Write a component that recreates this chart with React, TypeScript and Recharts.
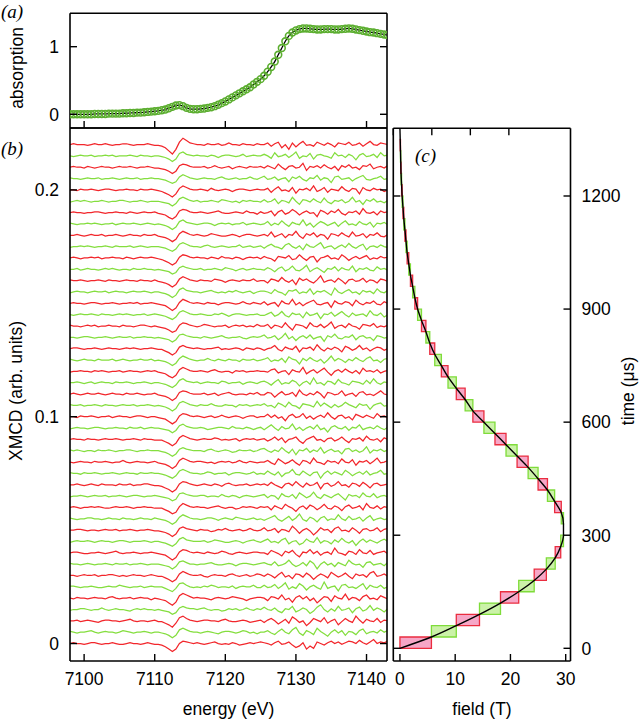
import React from 'react';
import { ComposedChart, Line, XAxis, YAxis, ReferenceArea } from 'recharts';

// ---------- shared energy grid (eV) ----------
const energy = [7098,7098.5,7099,7099.5,7100,7100.5,7101,7101.5,7102,7102.5,7103,7103.5,7104,7104.5,7105,7105.5,7106,7106.5,7107,7107.5,7108,7108.5,7109,7109.5,7110,7110.5,7111,7111.5,7112,7112.5,7113,7113.5,7114,7114.5,7115,7115.5,7116,7116.5,7117,7117.5,7118,7118.5,7119,7119.5,7120,7120.5,7121,7121.5,7122,7122.5,7123,7123.5,7124,7124.5,7125,7125.5,7126,7126.5,7127,7127.5,7128,7128.5,7129,7129.5,7130,7130.5,7131,7131.5,7132,7132.5,7133,7133.5,7134,7134.5,7135,7135.5,7136,7136.5,7137,7137.5,7138,7138.5,7139,7139.5,7140,7140.5,7141,7141.5,7142,7142.5,7143];

// ---------- panel (a): absorption ----------
const absorption = [0,0,0,0,0,0,0,0.005,0.005,0.005,0.005,0.01,0.01,0.01,0.01,0.015,0.015,0.02,0.02,0.025,0.025,0.03,0.035,0.04,0.045,0.05,0.06,0.07,0.09,0.11,0.13,0.135,0.12,0.095,0.08,0.075,0.075,0.08,0.085,0.095,0.105,0.12,0.14,0.165,0.19,0.22,0.25,0.28,0.31,0.34,0.37,0.4,0.44,0.48,0.52,0.57,0.63,0.7,0.78,0.88,0.98,1.08,1.16,1.21,1.24,1.26,1.27,1.27,1.265,1.26,1.255,1.255,1.26,1.26,1.26,1.255,1.255,1.26,1.265,1.27,1.265,1.255,1.245,1.235,1.225,1.215,1.21,1.2,1.19,1.18,1.17];
const absTicks = [0, 1];
const energyTicks = [7100, 7110, 7120, 7130, 7140];

// ---------- panel (b): XMCD traces ----------
const XMCD_UNIT = 0.00035; // deviation unit (arb.)
const traceOffsets = [0,0.005,0.01,0.015,0.02,0.025,0.03,0.035,0.04,0.045,0.05,0.055,0.06,0.065,0.07,0.075,0.08,0.085,0.09,0.095,0.1,0.105,0.11,0.115,0.12,0.125,0.13,0.135,0.14,0.145,0.15,0.155,0.16,0.165,0.17,0.175,0.18,0.185,0.19,0.195,0.2,0.205,0.21,0.215,0.22];
const xmcdTicks = [0, 0.1, 0.2];
const xmcdRows: number[][] = [
[0,1,0,0,-1,0,1,1,0,-1,0,0,1,0,-1,-1,0,1,0,0,-1,0,1,0,-1,-1,-2,-4,-7,-10,-7,0,3,2,1,0,1,0,-1,0,1,2,0,-1,0,-1,1,0,-2,-1,0,1,0,1,2,1,0,-2,1,3,-1,0,2,-2,-5,-3,1,-7,-3,-6,2,0,-2,1,3,0,2,-1,1,3,2,0,4,1,-1,2,5,0,2,1,3],
[1,0,-1,0,0,1,2,0,-1,0,1,0,0,-1,0,2,1,0,-1,0,0,1,0,-1,0,0,-1,-2,-4,-7,-4,3,5,3,1,0,0,-1,0,1,0,-1,-2,0,1,1,0,-1,0,2,1,-1,0,-2,0,0,2,-1,-3,1,4,0,-2,3,6,-1,-4,2,0,-3,5,1,-2,-5,0,3,-1,2,-4,1,0,-3,2,4,-2,0,1,-1,3,0,2],
[0,0,1,-1,0,1,0,-1,-2,0,1,1,0,0,-1,0,1,2,0,-1,0,0,-1,0,1,-1,-1,-3,-5,-8,-3,4,6,3,1,0,-1,0,1,1,0,0,-1,1,2,0,-1,-1,0,1,0,-2,-1,0,1,-2,1,3,0,-4,-1,2,-3,5,2,-2,0,-6,-2,3,1,-1,4,-3,0,2,-5,-1,3,0,-2,6,1,-3,2,0,-1,3,-2,1,0],
[-1,0,0,1,1,0,-1,0,0,2,0,-1,0,1,0,0,-1,-2,0,1,0,1,0,0,-1,0,-1,-2,-3,-6,-4,2,4,2,1,1,0,1,2,0,-1,0,0,-2,-1,1,0,1,-1,0,2,0,-1,1,0,3,0,-1,2,-2,-4,1,0,4,-3,-1,2,0,-5,-2,3,6,0,-3,1,-2,4,-1,0,2,-4,1,3,-2,0,5,-1,2,0,-3,1],
[0,-1,1,0,0,-1,0,1,0,0,-1,1,2,0,-1,0,0,1,-1,0,1,0,0,-2,0,-1,-2,-3,-6,-9,-5,3,6,4,2,0,1,0,0,-1,-2,0,1,0,-1,0,2,1,0,-1,-3,-1,0,1,1,0,-3,2,1,-1,4,-2,0,-5,1,3,-1,2,-3,0,-6,-2,2,1,-4,3,0,-1,5,-2,1,0,-3,2,4,-1,0,-2,3,1,-1],
[1,1,0,-1,0,0,1,0,-1,-1,0,1,0,0,2,1,0,-1,0,0,1,-1,0,1,0,0,0,-2,-4,-6,-2,4,5,2,0,-1,0,-1,1,0,2,1,-1,0,0,-1,1,-2,0,1,0,0,2,-1,-1,2,-1,0,3,-2,1,5,-3,0,-2,4,1,-4,0,2,-1,-3,6,-2,0,1,-5,2,3,-1,0,-2,1,4,-3,2,0,-1,2,-2,0],
[0,0,-1,0,1,0,0,1,-1,0,0,1,1,0,-1,0,-1,0,1,0,0,-1,0,1,0,-1,-1,-3,-5,-8,-5,2,5,3,1,0,0,1,-1,-2,0,1,0,0,-1,1,2,0,-1,0,1,-1,0,2,1,-1,2,0,-3,1,4,-2,0,-4,2,1,-2,3,0,-5,-1,2,0,-3,4,1,-2,0,3,-1,-4,2,0,1,-2,3,5,-1,0,2,-1],
[1,0,0,-1,0,1,0,-1,0,0,1,0,-1,1,0,0,1,-1,0,0,1,0,-1,0,0,0,-1,-2,-3,-6,-3,3,4,2,0,0,-1,0,0,1,2,0,-1,-1,0,1,0,-2,0,1,1,0,-1,0,1,2,0,-1,3,-2,-1,1,5,0,-3,-1,2,-2,4,1,-6,0,3,-1,1,-3,2,0,-2,5,1,-1,0,-4,2,3,-1,0,1,-2,2],
[0,1,1,0,-1,-1,0,0,1,0,-1,0,1,2,0,-1,0,0,1,0,-1,0,0,1,0,-1,-2,-3,-6,-9,-6,1,4,3,1,0,1,0,-1,1,0,-1,0,2,1,-1,-2,0,1,0,-1,0,1,1,0,0,-2,3,1,-1,-4,2,0,3,-2,-5,1,0,4,-1,2,-3,0,1,-2,6,0,-1,-3,2,1,-2,4,0,-1,3,-2,0,1,2,-1],
[-1,0,1,0,0,1,0,-1,0,1,0,0,-1,0,1,1,0,-1,0,0,0,1,0,-1,0,0,-1,-2,-4,-6,-3,3,5,2,1,0,0,0,1,-1,0,2,1,0,-1,-1,0,1,0,-2,0,1,2,0,-1,1,3,-1,0,-2,2,4,-3,0,1,-4,-2,3,0,-1,5,-2,1,0,-3,2,-1,4,0,-2,1,-5,0,3,-1,2,0,-2,1,3,0],
[0,0,1,1,0,-1,0,0,-1,0,1,0,0,1,-1,0,0,1,0,-1,0,0,1,0,-1,-1,-2,-3,-5,-8,-5,2,4,2,1,0,-1,1,0,0,-2,-1,1,0,2,0,-1,0,1,-1,0,2,0,-1,0,3,-1,0,2,-3,1,0,-2,5,1,-4,0,2,-1,-6,-2,3,0,1,-3,2,4,-1,0,-2,3,0,-4,1,2,-1,0,3,-2,1,2],
[1,0,-1,0,0,1,1,0,0,-1,0,1,0,0,-1,1,0,0,-1,0,1,0,0,-1,1,0,-1,-2,-4,-7,-4,2,5,3,1,0,0,-1,0,1,1,0,-2,0,1,0,-1,2,1,0,-1,0,1,-1,0,-2,0,2,4,-1,-3,0,3,-2,1,6,-1,-3,2,0,-4,1,3,-2,0,-1,5,0,-2,3,-1,0,2,-3,1,4,-2,0,1,-1,0],
[0,1,0,-1,0,0,1,0,1,0,-1,-1,0,1,0,0,1,0,-1,0,0,1,0,0,-1,-1,-1,-3,-5,-8,-6,1,5,3,1,0,1,0,0,-1,0,1,2,0,-1,0,0,-2,-1,1,0,1,0,-1,1,0,1,-3,2,0,-2,4,1,-1,-5,0,2,-2,3,1,-3,0,4,-1,-2,2,0,-4,1,3,-1,0,2,-3,5,0,-1,2,-2,1,0],
[-1,0,0,1,0,-1,0,1,0,0,1,-1,0,0,1,0,-1,0,1,1,0,-1,0,0,1,0,-1,-2,-3,-6,-4,3,4,2,1,0,0,1,1,-1,0,0,-1,2,0,-1,1,0,-2,0,1,0,-1,0,1,2,-2,1,0,-4,3,0,-1,2,-3,4,1,-2,0,5,-1,-3,2,0,-2,1,3,-1,-5,2,0,1,-2,4,0,-1,3,-2,0,1,-1],
[0,0,1,0,-1,0,1,0,-1,1,0,0,0,-1,1,0,0,1,-1,0,0,1,1,0,-1,-1,-2,-4,-6,-9,-6,1,4,3,1,0,-1,0,1,0,-1,1,0,-2,1,2,0,-1,0,0,1,-1,0,1,0,1,-1,3,0,-2,-4,1,2,-1,4,0,-3,2,-1,0,3,-5,1,2,-2,0,4,-1,0,-3,2,1,-2,3,0,-4,1,2,-1,0,1],
[1,0,0,-1,1,0,0,1,0,-1,0,0,1,0,-1,0,1,0,0,-1,1,0,0,1,0,0,-1,-2,-4,-6,-3,3,5,3,1,0,0,-1,0,2,1,-1,0,0,1,-2,0,1,1,0,-1,0,2,-1,0,-1,3,0,-2,2,-4,0,1,5,-1,-2,3,0,-3,1,2,-6,0,3,-1,2,0,-2,4,1,-3,0,2,-1,3,-2,0,1,4,-1,0],
[0,-1,0,1,0,0,-1,1,0,0,1,0,-1,0,0,2,0,-1,0,1,0,0,-1,0,1,-1,-2,-3,-5,-8,-5,2,5,3,1,0,1,1,0,-1,0,-2,0,1,0,1,-1,0,2,0,-1,1,0,-1,0,0,2,-1,-3,4,1,-2,0,3,-1,-4,2,1,-2,5,0,-1,-3,2,0,1,-2,4,0,-1,3,-4,1,0,2,-2,1,5,-1,0,2],
[1,0,1,0,-1,0,0,-1,1,0,0,1,0,-1,0,0,1,1,0,-1,0,0,1,0,0,0,-1,-2,-4,-7,-4,2,4,2,1,0,0,0,-1,1,2,0,-1,0,1,0,-2,-1,1,0,0,1,-1,0,2,3,0,-2,1,-1,4,0,-3,2,-5,1,0,3,-2,1,-1,4,-3,0,2,-1,0,-4,2,3,-1,1,-2,0,5,-3,1,0,2,-1,1],
[0,1,0,0,-1,1,0,0,-1,0,1,0,0,1,0,-1,0,0,1,0,-1,1,0,0,-1,-1,-1,-3,-5,-8,-5,2,5,3,1,0,-1,0,1,0,0,2,1,-1,0,-1,0,1,-2,0,1,0,1,-1,0,1,-2,0,3,-1,2,-4,0,1,3,-2,-5,0,2,4,-1,0,-3,1,2,-2,0,3,-1,-4,1,0,2,-2,4,0,-1,1,-3,2,0],
[-1,0,1,0,0,-1,0,1,1,0,-1,0,0,1,0,0,-1,1,0,0,1,-1,0,1,0,0,-1,-2,-3,-6,-3,3,5,2,1,0,0,1,0,-2,-1,0,1,1,0,-1,2,0,0,-1,1,0,-2,0,1,-2,1,4,0,-3,2,-1,0,5,-2,1,-3,0,2,-1,4,-2,0,-5,1,3,0,-1,2,-3,1,0,4,-2,0,1,-1,3,0,-2,1],
[0,0,-1,1,0,0,1,0,-1,0,0,1,-1,0,1,0,0,-1,0,1,1,0,-1,0,0,-1,-2,-3,-6,-9,-6,1,4,3,1,0,1,0,-1,0,1,-1,0,2,0,-1,0,1,0,-2,0,1,1,-1,0,0,3,-1,2,-2,0,-5,1,3,-1,0,4,-2,1,-3,0,2,-1,5,0,-3,1,2,-2,0,-4,3,1,-1,2,0,-2,4,0,1,-1],
[1,0,0,1,-1,0,0,1,0,-1,1,0,0,-1,0,1,0,0,1,-1,0,0,1,0,-1,0,-1,-2,-4,-7,-4,3,5,3,1,0,-1,1,0,0,2,0,-1,-1,1,0,0,-2,1,0,1,-1,0,1,0,2,-1,0,-3,3,1,-2,4,0,-1,-4,2,1,0,-2,5,-1,3,0,-3,1,-2,0,4,1,-1,-3,2,0,1,-5,0,2,3,-1,0],
[0,1,0,-1,0,1,0,0,1,0,-1,0,1,0,0,-1,1,0,0,1,0,-1,0,0,1,-1,-2,-3,-5,-8,-5,2,4,3,1,0,0,0,1,-1,0,1,-2,0,1,2,0,-1,0,0,-1,1,0,2,-1,-1,2,1,-4,0,3,-1,0,2,-3,5,0,-2,1,-1,3,0,-5,2,1,-1,0,4,-2,0,1,-3,2,3,-1,0,-2,1,4,0,-1],
[0,0,1,0,-1,0,1,-1,0,1,0,0,-1,1,0,0,1,0,-1,0,0,1,0,-1,0,0,-1,-2,-4,-6,-3,3,5,2,1,0,1,-1,0,1,0,0,-1,2,1,-1,0,0,1,-2,0,1,0,-1,1,2,0,-3,1,4,-2,0,-1,3,1,-4,0,2,-2,6,-1,0,-3,2,1,-2,4,0,-1,-3,2,1,0,-2,3,-1,5,0,-2,1,0],
[-1,0,0,1,0,0,-1,1,0,1,0,-1,0,0,1,-1,0,1,0,0,-1,0,1,0,1,-1,-2,-3,-6,-8,-5,2,5,3,1,0,0,1,0,-1,1,2,0,-1,0,0,-2,1,0,1,-1,0,0,1,0,0,-1,2,3,-2,0,1,-4,2,0,-1,5,-3,0,2,-2,1,4,-1,-5,0,2,-1,3,0,-2,1,-3,4,0,1,-1,2,-2,0,1],
[1,0,-1,0,1,0,0,-1,1,0,0,0,1,-1,0,1,0,-1,0,0,1,0,0,1,-1,0,-1,-2,-4,-7,-4,2,5,3,1,0,-1,0,0,2,0,-1,1,0,-1,1,0,0,-2,1,0,0,1,-1,0,1,3,-2,0,-1,2,-3,4,1,0,-5,2,-1,3,0,-2,1,-4,0,5,-1,2,0,-3,1,-1,3,0,-2,2,4,-1,0,-3,1,2],
[0,1,1,0,-1,0,0,1,0,-1,0,1,0,0,-1,0,1,0,1,0,-1,0,0,1,0,-1,-1,-3,-5,-8,-5,2,4,2,1,0,1,0,-1,0,0,1,2,-1,0,-1,0,1,0,-2,1,0,-1,1,0,-2,0,1,4,-1,-3,2,0,-1,3,-4,1,0,2,-2,5,0,-3,1,-1,2,0,-4,3,1,-2,0,4,-1,1,-3,0,2,1,-2,0],
[0,0,-1,0,1,1,0,-1,0,0,1,0,-1,0,1,0,0,1,-1,0,0,1,0,0,-1,0,-1,-2,-3,-6,-3,3,4,2,1,0,0,-1,1,0,-1,0,1,2,0,-1,0,0,1,-1,-2,0,1,0,1,3,-1,0,2,-3,0,5,-2,1,-4,0,2,-1,3,-2,0,1,-5,2,0,4,-1,-2,1,0,3,-3,1,2,-1,0,-4,2,1,-1,0],
[1,0,0,-1,0,1,0,1,-1,0,0,1,0,0,-1,1,0,0,-1,0,1,1,0,-1,0,-1,-2,-3,-5,-8,-6,1,4,3,1,0,-1,0,2,1,0,-1,0,0,1,-2,0,1,0,1,-1,0,-1,2,0,0,2,-3,1,0,-2,4,-1,-5,2,1,0,-3,4,0,-1,2,-2,1,5,-3,0,1,-2,3,0,-1,-4,2,1,0,3,-2,0,-1,1],
[0,-1,0,1,0,0,1,0,-1,1,0,0,-1,0,1,0,1,0,-1,0,0,1,-1,0,1,0,-1,-2,-4,-6,-3,3,5,3,1,0,0,1,0,-1,-1,1,0,2,0,-2,0,1,1,0,-1,0,0,1,-1,-1,1,3,-2,0,4,-1,-3,2,0,1,-4,3,-1,0,2,-5,1,0,3,-2,1,4,0,-3,2,-1,0,1,-2,5,0,-1,2,-3,0],
[0,1,0,0,-1,0,1,1,0,-1,0,0,1,0,-1,0,0,1,0,1,-1,0,0,1,0,-1,-2,-3,-6,-9,-6,1,5,3,1,0,1,0,-1,1,0,0,-2,0,1,1,0,-1,0,2,0,-1,1,0,-1,2,-2,0,1,-4,3,0,-1,5,-2,1,-3,0,2,4,-1,-2,0,1,-5,3,0,-1,2,1,-3,4,0,-2,1,0,3,-1,-2,2,0],
[-1,0,1,0,0,-1,0,1,0,0,1,-1,0,1,0,0,-1,0,1,0,0,1,0,-1,0,0,-1,-2,-4,-7,-4,3,5,2,1,0,0,-1,0,1,2,0,-1,0,-1,1,0,2,0,-1,0,1,-2,0,1,1,0,-2,3,0,-1,-4,2,1,3,-2,0,-1,4,-3,1,0,2,-1,-4,5,0,-2,1,3,-1,0,-3,2,0,1,-2,4,0,-1,2],
[1,0,0,1,0,-1,0,0,1,0,-1,1,0,0,-1,0,1,0,0,-1,1,0,0,-1,1,-1,-2,-3,-5,-8,-5,2,5,3,1,0,-1,1,0,0,-1,2,1,0,-2,0,1,0,-1,1,0,0,2,-1,0,0,-3,2,1,-1,4,0,-2,1,-5,3,0,2,-1,-3,1,6,-2,0,1,-2,3,0,-4,1,2,-1,0,3,-2,1,0,-3,2,1,-1],
[0,0,1,-1,0,1,0,0,-1,0,1,0,1,0,-1,0,0,-1,1,0,0,1,0,0,-1,0,-1,-2,-3,-6,-4,2,4,2,1,0,0,1,-1,0,0,1,0,-1,2,1,0,-2,0,1,-1,0,1,0,0,-1,2,0,-3,1,3,-2,0,4,-1,-2,1,5,-3,0,2,-1,-4,1,0,3,-2,2,0,-1,4,-3,1,0,2,-1,-2,3,0,1,-1],
[0,1,0,-1,0,0,1,0,1,-1,0,0,1,0,0,-1,1,0,-1,0,1,0,0,1,0,-1,-2,-4,-6,-9,-6,1,4,3,1,0,1,0,0,-1,1,0,-1,2,0,0,-1,1,0,-2,0,1,0,1,-1,2,0,-1,-4,2,1,0,3,-2,-1,4,0,-3,1,2,-5,0,1,3,-1,0,-2,4,1,-3,0,2,-1,1,3,-2,0,-1,2,0,1],
[-1,0,0,1,0,1,0,-1,0,0,1,0,-1,1,0,0,0,1,-1,0,1,0,-1,0,0,0,-1,-2,-4,-6,-3,3,5,3,1,0,0,-1,1,2,0,-1,0,1,0,-1,0,0,2,-1,0,1,-1,0,1,-2,1,3,0,-1,-3,2,4,0,-2,1,-4,3,0,-1,2,5,-2,0,1,-3,0,2,-1,4,0,-2,1,3,-4,0,1,-1,2,0,-1],
[0,0,1,0,-1,0,1,0,0,1,-1,0,0,1,0,-1,0,1,0,0,-1,1,0,0,1,-1,-2,-3,-5,-8,-5,2,5,3,1,0,1,0,-1,0,2,1,0,-1,-1,0,1,0,-2,0,1,1,0,-1,0,1,-1,4,-2,0,2,-3,1,0,5,-1,-4,2,0,3,-2,1,0,-5,2,1,-1,3,0,-2,4,-1,0,2,-3,1,0,3,-1,-2,1],
[1,0,-1,0,0,1,0,1,0,-1,0,0,1,-1,0,1,0,0,1,0,-1,0,1,0,-1,0,-1,-2,-4,-7,-4,3,5,2,1,0,-1,0,1,1,0,-2,0,1,0,1,-1,0,0,2,-1,0,1,0,-1,0,3,-2,1,-1,4,0,-3,2,0,-1,5,-2,1,-4,0,3,1,-2,0,2,-3,1,4,-1,0,-2,3,0,-1,2,-4,1,0,2,-1],
[0,1,0,0,-1,0,0,1,1,0,-1,0,0,1,0,0,-1,1,0,-1,0,1,0,0,1,-1,-2,-3,-6,-8,-5,2,4,3,1,0,0,1,0,-1,0,1,2,0,-1,-1,0,1,0,-1,2,0,0,-2,1,-1,0,2,-4,1,3,-2,0,4,1,-3,0,2,-1,0,-5,3,1,-2,2,0,4,-1,-3,1,0,2,-2,5,0,-1,1,-3,2,0,1],
[-1,0,1,0,1,0,-1,0,0,1,0,-1,0,0,1,1,0,-1,0,0,1,0,-1,0,0,0,-1,-2,-3,-6,-3,3,5,3,1,0,1,-1,0,0,1,0,-1,2,1,0,-1,0,-2,1,0,1,0,0,-1,2,-1,0,3,-3,1,0,-2,5,0,-4,2,1,-1,3,0,-2,4,-1,-3,1,0,2,-2,0,5,-1,1,-4,2,0,3,-1,0,-2,1],
[0,0,-1,1,0,0,1,0,-1,0,1,1,0,-1,0,0,1,0,0,-1,1,0,0,1,0,-1,-2,-4,-6,-9,-5,2,5,3,1,0,0,1,0,-1,2,0,-1,0,1,0,-2,0,1,1,0,-1,0,1,0,0,2,-3,1,4,-1,0,-2,3,-4,1,0,2,-1,5,-2,0,3,-3,1,0,-1,4,0,-2,2,1,-5,3,0,-1,2,0,1,-2,0],
[1,0,0,-1,0,1,0,0,1,-1,0,0,1,0,-1,0,1,0,0,1,-1,0,0,1,0,0,-1,-2,-4,-6,-4,2,5,3,1,0,-1,0,1,0,0,-1,1,2,0,-1,0,1,-1,0,0,2,0,-1,1,3,-1,0,2,-2,0,1,-4,2,0,3,-1,-3,1,0,4,-2,1,0,-5,2,3,-1,0,1,-3,0,2,4,-1,-2,0,1,3,-1,0],
[0,1,0,0,-1,1,0,-1,0,1,0,0,-1,0,1,0,0,1,0,-1,0,0,1,0,-1,-1,-2,-3,-5,-8,-5,2,4,3,1,0,0,0,1,-1,0,2,0,-1,0,1,-2,0,1,0,-1,1,0,0,1,-1,2,0,-2,4,0,-3,1,2,-1,0,5,-4,1,0,2,-1,3,0,-2,1,-4,2,0,3,-1,0,-3,2,1,4,-2,0,1,-1,2],
[0,-1,0,1,0,0,1,-1,0,0,1,0,1,-1,0,0,0,1,0,-1,1,0,0,-1,0,0,-1,-2,-4,-7,-4,3,5,2,1,0,1,0,0,-1,1,0,-2,0,1,1,0,-1,0,2,-1,0,1,0,0,2,0,-3,4,-1,0,2,-2,1,5,-3,0,-1,3,-4,1,2,0,-1,-3,4,0,1,-2,2,0,-5,1,3,-1,0,2,-2,4,0,1],
[0,1,0,0,0,-1,0,1,0,0,1,0,-1,0,0,1,1,0,-1,0,0,0,1,0,-1,-1,-2,-4,-8,-12,-6,3,8,5,2,1,0,0,-1,1,0,0,1,-1,0,2,0,0,-1,1,0,0,-1,1,0,0,2,-2,1,3,-4,0,-6,2,-3,1,4,-1,0,-2,3,1,-1,2,0,-3,2,1,0,3,-1,0,2,-2,1,4,0,-1,2,1,0],
];

// ---------- panel (c): pulsed field profile ----------
const timeUs = [0,30,60,90,120,150,180,210,240,270,300,330,360,390,420,450,480,510,540,570,600,630,660,690,720,750,780,810,840,870,900,930,960,990,1020,1050,1080,1110,1140,1170,1200,1230,1260,1290,1320,1350,1380];
const fieldT = [0,5.7,10.2,14.4,18.2,21.5,24.3,26.5,28.1,29.1,29.6,29.6,29.2,28,26.7,25,23.2,21.2,19.2,17.2,15.2,13.2,11.8,10.2,8.7,7.5,6.3,5.4,4.7,3.9,3.2,2.7,2.3,1.9,1.6,1.3,1.1,0.9,0.7,0.55,0.4,0.3,0.2,0.15,0.1,0.05,0];
const windowCount = 45;
const fieldTicks = [0, 10, 20, 30];
const timeTicks = [0, 300, 600, 900, 1200];

// ---------- styling ----------
const RED = '#f2262b';
const GREEN = '#84de3e';
const PINK_FILL = '#f6a7c7';
const LGREEN_FILL = '#cbf2a8';
const SANS = '"Liberation Sans", Arial, sans-serif';
const SERIF = '"Liberation Serif", "Times New Roman", serif';
const FS = 17.5;
const TL = 7;
const AXIS_LINE = { stroke: '#000', strokeWidth: 1.6 };

type Side = 'left' | 'right' | 'top' | 'bottom';
const makeTick = (side: Side, showLabel: boolean) => (props: any) => {
  const { x, y, payload } = props;
  const v = payload ? payload.value : '';
  let line: any = null;
  let label: any = null;
  if (side === 'left') {
    line = <line x1={x} y1={y} x2={x + TL} y2={y} stroke="#000" strokeWidth={1.4} />;
    if (showLabel) label = <text x={x - 11} y={y} dy="0.36em" textAnchor="end" fontFamily={SANS} fontSize={FS} fill="#000">{v}</text>;
  } else if (side === 'right') {
    line = <line x1={x} y1={y} x2={x - TL} y2={y} stroke="#000" strokeWidth={1.4} />;
    if (showLabel) label = <text x={x + 11} y={y} dy="0.36em" textAnchor="start" fontFamily={SANS} fontSize={FS} fill="#000">{v}</text>;
  } else if (side === 'top') {
    line = <line x1={x} y1={y} x2={x} y2={y + TL} stroke="#000" strokeWidth={1.4} />;
  } else {
    line = <line x1={x} y1={y} x2={x} y2={y - TL} stroke="#000" strokeWidth={1.4} />;
    if (showLabel) label = <text x={x} y={y + 17.5} dy="0.36em" textAnchor="middle" fontFamily={SANS} fontSize={FS} fill="#000">{v}</text>;
  }
  return <g>{line}{label}</g>;
};

const axisCommon = { tickLine: false, tickSize: 0, tickMargin: 0, axisLine: AXIS_LINE, interval: 0 as const };

const E_DOMAIN: [number, number] = [7098, 7142.9];

// axes are 1px thick (CartesianAxis skips zero-size axes); margins compensate
function PanelA() {
  const data = energy.map((e, i) => ({ e, a: absorption[i] }));
  return (
    <ComposedChart width={640} height={723} data={data} margin={{ top: 12.3, left: 69, right: 252, bottom: 594 }}>
      <XAxis dataKey="e" type="number" domain={E_DOMAIN} allowDataOverflow ticks={energyTicks} height={1} {...axisCommon} tick={makeTick('bottom', false)} />
      <XAxis xAxisId="top" orientation="top" type="number" domain={E_DOMAIN} allowDataOverflow ticks={energyTicks} height={1} {...axisCommon} tick={makeTick('top', false)} />
      <YAxis type="number" domain={[-0.203, 1.494]} allowDataOverflow ticks={absTicks} width={1} {...axisCommon} tick={makeTick('left', true)} />
      <YAxis yAxisId="right" orientation="right" type="number" domain={[-0.203, 1.494]} allowDataOverflow ticks={absTicks} width={1} {...axisCommon} tick={makeTick('right', false)} />
      <Line dataKey="a" type="monotone" stroke="#000" strokeWidth={1.3} isAnimationActive={false}
        dot={{ r: 3.4, stroke: '#5cae30', strokeWidth: 1.6, fill: 'none' }} activeDot={false} />
    </ComposedChart>
  );
}

function PanelB() {
  const data = energy.map((e, i) => {
    const row: Record<string, number> = { e };
    xmcdRows.forEach((r, k) => {
      row['s' + k] = traceOffsets[k] + (r[i] ?? 0) * XMCD_UNIT;
    });
    return row;
  });
  return (
    <ComposedChart width={640} height={723} data={data} margin={{ top: 127, left: 69, right: 252, bottom: 61 }}>
      <XAxis dataKey="e" type="number" domain={E_DOMAIN} allowDataOverflow ticks={energyTicks} height={1} {...axisCommon} tick={makeTick('bottom', true)} />
      <XAxis xAxisId="top" orientation="top" type="number" domain={E_DOMAIN} allowDataOverflow ticks={energyTicks} height={1} {...axisCommon} tick={makeTick('top', false)} />
      <YAxis type="number" domain={[-0.0077, 0.2273]} allowDataOverflow ticks={xmcdTicks} width={1} {...axisCommon} tick={makeTick('left', true)} />
      <YAxis yAxisId="right" orientation="right" type="number" domain={[-0.0077, 0.2273]} allowDataOverflow ticks={xmcdTicks} width={1} {...axisCommon} tick={makeTick('right', false)} />
      {xmcdRows.map((_, k) => (
        <Line key={k} dataKey={'s' + k} type="linear" stroke={k % 2 === 0 ? RED : GREEN} strokeWidth={1.25}
          dot={false} activeDot={false} isAnimationActive={false} />
      ))}
    </ComposedChart>
  );
}

function PanelC() {
  const data = timeUs.map((t, i) => ({ field: fieldT[i], time: t }));
  const windows = timeUs.slice(0, windowCount).map((t, i) => ({
    t1: t, t2: timeUs[i + 1], b1: fieldT[i], b2: fieldT[i + 1], red: i % 2 === 0,
  }));
  return (
    <ComposedChart width={640} height={723} data={data} margin={{ top: 127.3, left: 392.3, right: 68.5, bottom: 61 }}>
      <XAxis dataKey="field" type="number" domain={[-1.2, 30.87]} allowDataOverflow ticks={fieldTicks} height={1} {...axisCommon} tick={makeTick('bottom', true)} />
      <XAxis xAxisId="top" orientation="top" type="number" domain={[-1.2, 30.87]} allowDataOverflow ticks={fieldTicks} height={1} {...axisCommon} tick={makeTick('top', false)} />
      <YAxis yAxisId="time" orientation="right" type="number" domain={[-33.7, 1379.6]} allowDataOverflow ticks={timeTicks} width={1} {...axisCommon} tick={makeTick('right', true)} />
      <YAxis yAxisId="left" orientation="left" type="number" domain={[-33.7, 1379.6]} allowDataOverflow ticks={timeTicks} width={1} {...axisCommon} tick={makeTick('left', false)} />
      {windows.map((w, i) => (
        <ReferenceArea key={i} yAxisId="time" x1={w.b1} x2={w.b2} y1={w.t1} y2={w.t2}
          fill={w.red ? PINK_FILL : LGREEN_FILL} fillOpacity={1}
          stroke={w.red ? '#ea2d3f' : '#7fdc3a'} strokeWidth={1.3} strokeOpacity={1} ifOverflow="visible" />
      ))}
      <Line yAxisId="time" dataKey="time" type="monotoneY" stroke="#000" strokeWidth={1.4}
        dot={false} activeDot={false} isAnimationActive={false} />
    </ComposedChart>
  );
}

export default function App() {
  const abs: React.CSSProperties = { position: 'absolute', left: 0, top: 0 };
  return (
    <div style={{ position: 'absolute', left: 0, top: 0, width: 640, height: 723, background: '#fff', overflow: 'hidden' }}>
      <div style={abs}><PanelB /></div>
      <div style={abs}><PanelA /></div>
      <div style={abs}><PanelC /></div>
      <svg width={640} height={723} style={{ ...abs, pointerEvents: 'none' }}>
        <text x={1} y={18} fontFamily={SERIF} fontStyle="italic" fontSize={19} fill="#000">(a)</text>
        <text x={1} y={155} fontFamily={SERIF} fontStyle="italic" fontSize={19} fill="#000">(b)</text>
        <text x={415} y={162} fontFamily={SERIF} fontStyle="italic" fontSize={19} fill="#000">(c)</text>
        <text transform="translate(16.5,68) rotate(-90)" textAnchor="middle" dy="0.35em" fontFamily={SANS} fontSize={FS} fill="#000">absorption</text>
        <text transform="translate(16,391) rotate(-90)" textAnchor="middle" dy="0.35em" fontFamily={SANS} fontSize={FS} fill="#000">XMCD (arb. units)</text>
        <text transform="translate(628,391) rotate(-90)" textAnchor="middle" dy="0.35em" fontFamily={SANS} fontSize={FS} fill="#000">time (μs)</text>
        <text x={228.5} y={709} dy="0.35em" textAnchor="middle" fontFamily={SANS} fontSize={FS} fill="#000">energy (eV)</text>
        <text x={482} y={709} dy="0.35em" textAnchor="middle" fontFamily={SANS} fontSize={FS} fill="#000">field (T)</text>
      </svg>
    </div>
  );
}
